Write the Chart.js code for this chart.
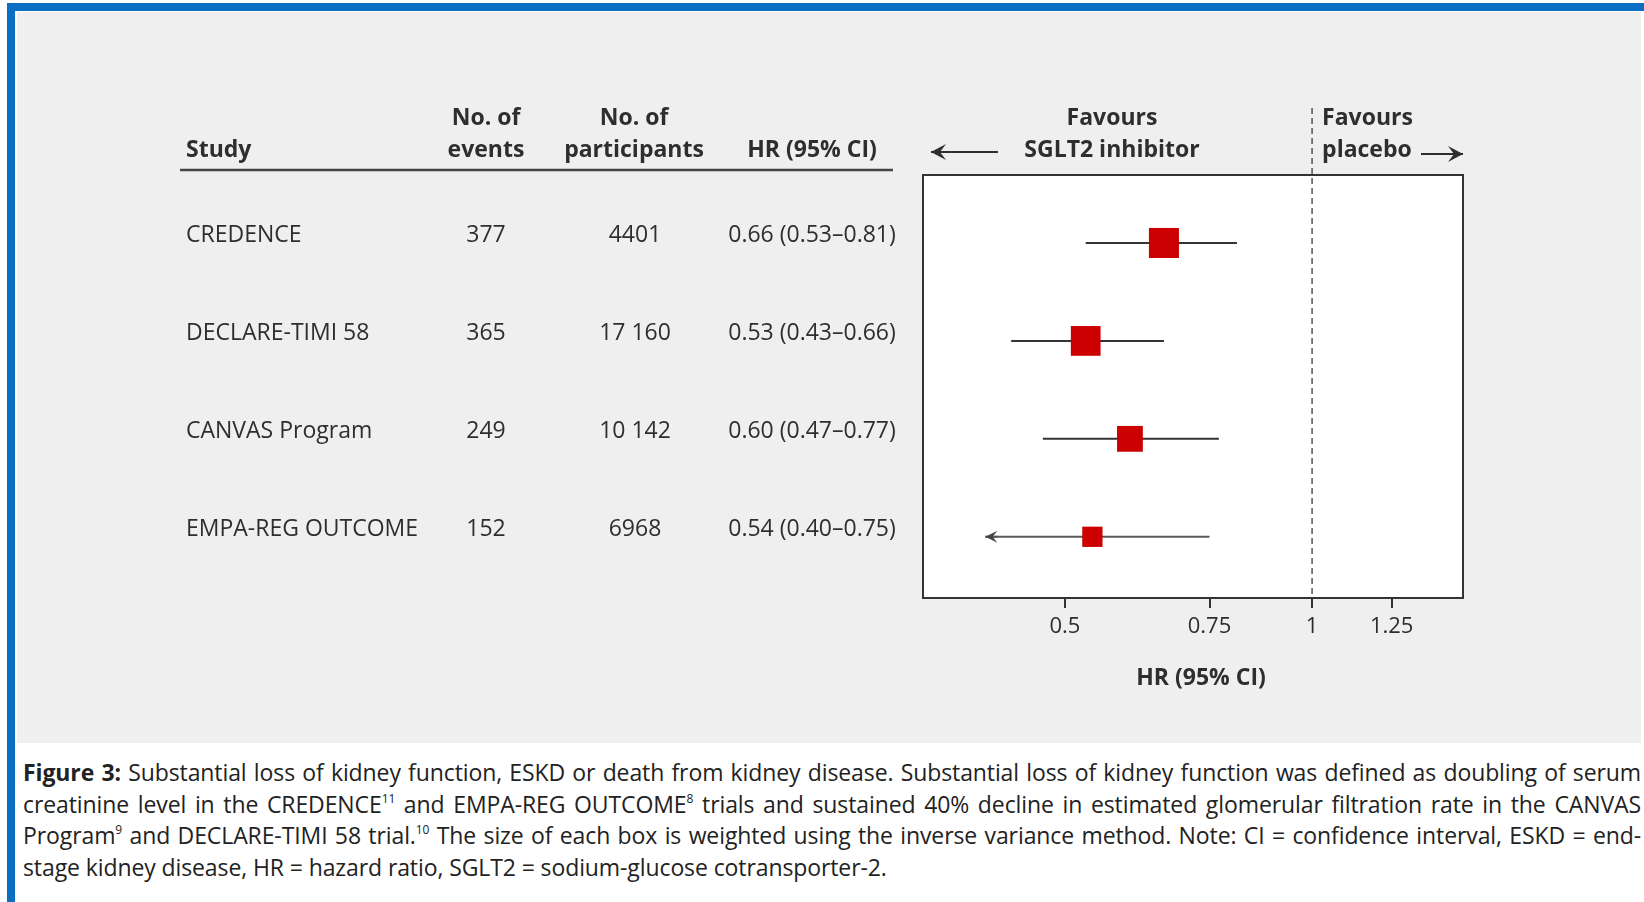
<!DOCTYPE html>
<html lang="en">
<head>
    <meta charset="UTF-8">
    <title>Figure 3 forest plot</title>
    <script src="https://cdn.jsdelivr.net/npm/chart.js"></script>
    <style>
        body { margin: 0; width: 1644px; height: 902px; background: #fff; overflow: hidden; position: relative; font-family: "Open Sans", sans-serif; }
        #blueTop { position: absolute; left: 7px; top: 3px; width: 1637px; height: 8px; background: #0a6fc2; }
        #blueLeft { position: absolute; left: 7px; top: 3px; width: 8px; height: 899px; background: #0a6fc2; }
        #panel { position: absolute; left: 17px; top: 12px; width: 1624px; height: 731px; background: #efefef; }
        #chart { position: absolute; left: 0; top: 0; }
        #caption { position: absolute; left: 23px; top: 757px; width: 1618px; color: #222; font-size: 23px; line-height: 31.5px; letter-spacing: -0.1px; }
        #caption div { white-space: nowrap; text-align: justify; text-align-last: justify; }
        #caption div.last { text-align: left; text-align-last: left; }
        #caption sup { font-size: 12px; line-height: 0; vertical-align: 10px; }
    </style>
</head>
<body>
    <div id="blueTop"></div>
    <div id="blueLeft"></div>
    <div id="panel"></div>
    <canvas id="chart" width="1644" height="745"></canvas>

    <div id="caption">
        <div><b>Figure 3:</b> Substantial loss of kidney function, ESKD or death from kidney disease. Substantial loss of kidney function was defined as doubling of serum</div>
        <div>creatinine level in the CREDENCE<sup>11</sup> and EMPA-REG OUTCOME<sup>8</sup> trials and sustained 40% decline in estimated glomerular filtration rate in the CANVAS</div>
        <div>Program<sup>9</sup> and DECLARE-TIMI 58 trial.<sup>10</sup> The size of each box is weighted using the inverse variance method. Note: CI = confidence interval, ESKD = end-</div>
        <div class="last">stage kidney disease, HR = hazard ratio, SGLT2 = sodium-glucose cotransporter-2.</div>
    </div>

    <script>
        // Study data
        const studies = ['CREDENCE', 'DECLARE-TIMI 58', 'CANVAS Program', 'EMPA-REG OUTCOME'];
        const events = [377, 365, 249, 152];
        const participants = [4401, 17160, 10142, 6968];
        const hr = [0.66, 0.53, 0.60, 0.54];
        const ciLow = [0.53, 0.43, 0.47, 0.40];
        const ciHigh = [0.81, 0.66, 0.77, 0.75];
        const ciArrow = [false, false, false, true];
        const xTicks = [0.5, 0.75, 1, 1.25];

        const ink = '#2e2e2e';
        const red = '#cc0000';
        const fontReg = '23px "Open Sans"';
        const fontBold = 'bold 23px "Open Sans"';

        // squeeze a justified caption line a little if it would overflow
        document.querySelectorAll('#caption div').forEach(el => {
            const box = el.parentNode.clientWidth;
            el.style.display = 'inline-block';
            const w = el.scrollWidth;
            el.style.display = '';
            if (w > box) {
                const chars = el.textContent.length;
                el.style.letterSpacing = (-0.1 - (w - box + 4) / chars) + 'px';
            }
        });

        // inverse variance weight -> box side (area proportional to weight)
        function boxSide(i) {
            const se = (Math.log(ciHigh[i]) - Math.log(ciLow[i])) / (2 * 1.96);
            return 3.25 * Math.sqrt(1 / (se * se));
        }
        function fmtCount(n) {
            const s = String(n);
            return n >= 10000 ? s.slice(0, -3) + ' ' + s.slice(-3) : s;
        }

        const ciSets = studies.map((s, i) => ({
            type: 'scatter',
            label: s + ' CI',
            data: [{ x: ciLow[i], y: i }, { x: ciHigh[i], y: i }],
            showLine: true,
            borderColor: ciArrow[i] ? '#5a5a5a' : '#333',
            borderWidth: 2,
            pointRadius: 0,
            order: 2,
        }));

        function arrow(ctx, x1, x2, y, dir, len, half) {
            // dir = -1 points left, 1 points right
            const tip = dir < 0 ? x1 : x2;
            ctx.beginPath();
            ctx.moveTo(x1, y);
            ctx.lineTo(x2, y);
            ctx.stroke();
            ctx.beginPath();
            ctx.moveTo(tip, y);
            ctx.lineTo(tip - dir * len, y - half);
            ctx.lineTo(tip - dir * len * 0.6, y);
            ctx.lineTo(tip - dir * len, y + half);
            ctx.closePath();
            ctx.fill();
        }

        const forestPlugin = {
            id: 'forest',
            beforeDatasetsDraw(chart) {
                const { ctx, chartArea: a, scales } = chart;
                ctx.save();
                ctx.fillStyle = '#fff';
                ctx.fillRect(a.left, a.top, a.right - a.left, a.bottom - a.top);
                // line of no effect
                const x1 = scales.x.getPixelForValue(1);
                ctx.strokeStyle = '#555';
                ctx.lineWidth = 1.5;
                ctx.setLineDash([6, 4]);
                ctx.beginPath();
                ctx.moveTo(x1, 108);
                ctx.lineTo(x1, a.bottom);
                ctx.stroke();
                ctx.restore();
            },
            afterDatasetsDraw(chart) {
                const { ctx, chartArea: a, scales } = chart;
                ctx.save();
                // plot frame
                ctx.strokeStyle = '#333';
                ctx.lineWidth = 2;
                ctx.strokeRect(a.left, a.top, a.right - a.left, a.bottom - a.top);

                // truncated CI arrows
                ctx.fillStyle = '#444';
                ctx.strokeStyle = '#5a5a5a';
                studies.forEach((s, i) => {
                    if (!ciArrow[i]) return;
                    const x = scales.x.getPixelForValue(ciLow[i]);
                    const y = scales.y.getPixelForValue(i);
                    arrow(ctx, x, x + 12, y, -1, 12, 6);
                });

                // table header
                ctx.fillStyle = ink;
                ctx.font = fontBold;
                ctx.textBaseline = 'alphabetic';
                ctx.textAlign = 'left';
                ctx.fillText('Study', 186, 157);
                ctx.textAlign = 'center';
                ctx.fillText('No. of', 486, 125);
                ctx.fillText('events', 486, 157);
                ctx.fillText('No. of', 634, 125);
                ctx.fillText('participants', 634, 157);
                ctx.fillText('HR (95% CI)', 812, 157);

                ctx.strokeStyle = '#444';
                ctx.lineWidth = 2.5;
                ctx.beginPath();
                ctx.moveTo(180, 170);
                ctx.lineTo(893, 170);
                ctx.stroke();

                // table rows
                ctx.font = fontReg;
                studies.forEach((s, i) => {
                    const y = scales.y.getPixelForValue(i) - 1;
                    ctx.textAlign = 'left';
                    ctx.fillText(s, 186, y);
                    ctx.textAlign = 'center';
                    ctx.fillText(String(events[i]), 486, y);
                    ctx.fillText(fmtCount(participants[i]), 635, y);
                    ctx.fillText(hr[i].toFixed(2) + ' (' + ciLow[i].toFixed(2) + '\u2013' + ciHigh[i].toFixed(2) + ')', 812, y);
                });

                // direction headers
                const x1 = scales.x.getPixelForValue(1);
                ctx.font = fontBold;
                ctx.textAlign = 'center';
                ctx.fillText('Favours', 1112, 125);
                ctx.fillText('SGLT2 inhibitor', 1112, 157);
                ctx.textAlign = 'left';
                ctx.fillText('Favours', x1 + 10, 125);
                ctx.fillText('placebo', x1 + 10, 157);

                // x axis title
                ctx.textAlign = 'center';
                ctx.textBaseline = 'middle';
                ctx.fillText('HR (95% CI)', (a.left + a.right) / 2 + 8, 678);

                ctx.strokeStyle = ink;
                ctx.fillStyle = ink;
                ctx.lineWidth = 2;
                arrow(ctx, a.left + 8, a.left + 75, 152, -1, 15, 8);
                arrow(ctx, 1421, a.right, 154, 1, 15, 8);
                ctx.restore();
            }
        };

        const ctx = document.getElementById('chart').getContext('2d');
        const chart = new Chart(ctx, {
            type: 'scatter',
            data: {
                datasets: [
                    {
                        label: 'HR',
                        data: hr.map((v, i) => ({ x: v, y: i })),
                        pointStyle: 'rect',
                        pointRadius: studies.map((s, i) => boxSide(i) / 2 / Math.SQRT1_2),
                        backgroundColor: red,
                        borderWidth: 0,
                        order: 1,
                    },
                    ...ciSets,
                ],
            },
            options: {
                responsive: false,
                animation: false,
                layout: { padding: { left: 923, right: 181, top: 175, bottom: 0 } },
                plugins: {
                    legend: { display: false },
                    tooltip: { enabled: false },
                },
                scales: {
                    x: {
                        type: 'logarithmic',
                        bounds: 'data',
                        min: 0.3358,
                        max: 1.527,
                        afterFit: (scale) => { scale.height = 147; },
                        afterBuildTicks: (scale) => { scale.ticks = xTicks.map(v => ({ value: v })); },
                        ticks: {
                            callback: (v) => String(v),
                            color: ink,
                            font: { family: 'Open Sans', size: 22 },
                            padding: 6,
                            autoSkip: false,
                            maxRotation: 0,
                        },
                        grid: { drawOnChartArea: false, drawTicks: true, tickLength: 10, color: '#333', lineWidth: 2 },
                        border: { display: true, color: '#333', width: 2 },
                        title: { display: false },
                    },
                    y: {
                        type: 'linear',
                        display: false,
                        reverse: true,
                        min: -0.694,
                        max: 3.625,
                    },
                },
            },
            plugins: [forestPlugin],
        });
    </script>
</body>
</html>
